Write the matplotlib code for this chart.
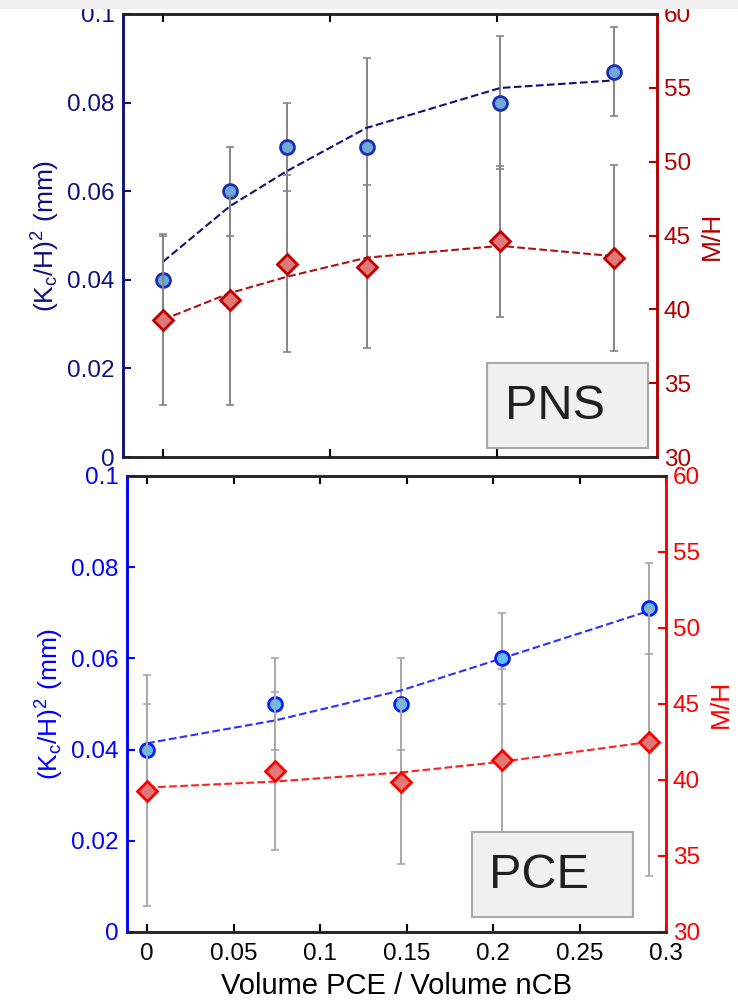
import matplotlib
matplotlib.use("Agg")
import matplotlib.pyplot as plt
from matplotlib.patches import Rectangle

plt.rcParams['font.family'] = ['Liberation Sans', 'DejaVu Sans']
plt.rcParams['mathtext.default'] = 'regular'

# PNS panel (top)
pns_x = [0, 0.04, 0.074, 0.122, 0.202, 0.27]
pns_k = [0.040, 0.060, 0.070, 0.070, 0.080, 0.087]
pns_k_err = [0.010, 0.010, 0.010, 0.020, 0.015, 0.010]
pns_k_fit = [0.0441, 0.0566, 0.0645, 0.0743, 0.0833, 0.0850]
pns_m = [39.3, 40.6, 43.1, 42.9, 44.6, 43.5]
pns_m_err = [5.8, 7.1, 6.0, 5.5, 5.1, 6.3]
pns_m_fit = [39.3, 41.1, 42.2, 43.5, 44.3, 43.6]

# PCE panel (bottom)
pce_x = [0, 0.074, 0.147, 0.205, 0.29]
pce_k = [0.040, 0.050, 0.050, 0.060, 0.071]
pce_k_err = [0.010, 0.010, 0.010, 0.010, 0.010]
pce_k_fit = [0.0414, 0.0464, 0.0530, 0.0600, 0.0704]
pce_m = [39.3, 40.6, 39.9, 41.3, 42.5]
pce_m_err = [7.6, 5.2, 5.4, 6.0, 8.8]
pce_m_fit = [39.5, 39.9, 40.5, 41.2, 42.5]

left_ticks = [0, 0.02, 0.04, 0.06, 0.08, 0.1]
left_labels = ['0', '0.02', '0.04', '0.06', '0.08', '0.1']
right_ticks = [30, 35, 40, 45, 50, 55, 60]
x_ticks_top = [0, 0.1, 0.2]
x_ticks_bot = [0, 0.05, 0.1, 0.15, 0.2, 0.25, 0.3]
x_labels_bot = ['0', '0.05', '0.1', '0.15', '0.2', '0.25', '0.3']

fig = plt.figure(figsize=(7.38, 10), dpi=100)
fig.patches.append(Rectangle((0, 0.992), 1, 0.008, transform=fig.transFigure,
                             color='#efefef', zorder=0))


def panel(rect, x, k, kerr, kfit, m, merr, mfit, xlim, xticks,
          lc, rc, kface, kedge, mface, medge, kline, mline, ecol, name, box):
    ax = fig.add_axes(rect)
    ax2 = ax.twinx()
    ax.errorbar(x, k, yerr=kerr, fmt='none', ecolor=ecol, elinewidth=1.4,
                capsize=3, capthick=1.2, zorder=1)
    ax.plot(x, kfit, '--', color=kline, lw=1.5, zorder=2)
    ax.plot(x, k, 'o', ms=10, mfc=kface, mec=kedge, mew=2, zorder=3)
    ax2.errorbar(x, m, yerr=merr, fmt='none', ecolor=ecol, elinewidth=1.4,
                 capsize=3, capthick=1.2, zorder=1)
    ax2.plot(x, mfit, '--', color=mline, lw=1.5, zorder=2)
    ax2.plot(x, m, 'D', ms=10, mfc=mface, mec=medge, mew=2, zorder=3)

    ax.set_xlim(*xlim)
    ax.set_ylim(0, 0.1)
    ax2.set_ylim(30, 60)
    ax.set_yticks(left_ticks)
    ax.set_yticklabels(left_labels)
    ax2.set_yticks(right_ticks)
    ax.set_xticks(xticks)

    ax.tick_params(axis='y', direction='in', length=6, width=1.5, colors=lc,
                   labelsize=17.5, pad=6)
    ax.tick_params(axis='x', direction='in', length=6, width=1.5, top=True,
                   labelsize=17.5, pad=9, colors='black')
    ax2.tick_params(axis='y', direction='in', length=6, width=1.5, colors=rc,
                    labelsize=17.5, pad=5)
    for a in (ax, ax2):
        a.spines['left'].set_color(lc)
        a.spines['right'].set_color(rc)
        a.spines['top'].set_color('#222222')
        a.spines['bottom'].set_color('#222222')
        for s in a.spines.values():
            s.set_linewidth(1.8)

    ax.set_ylabel(r'(K$_c$/H)$^2$ (mm)', color=lc, fontsize=19, labelpad=4)
    ax2.set_ylabel('M/H', color=rc, fontsize=19, labelpad=6)

    bx, by, bw, bh, tx, ty = box
    ax2.add_patch(Rectangle((bx, by), bw, bh, transform=ax2.transAxes,
                            facecolor='#f0f0f0', edgecolor='#a8a8a8', lw=1.5,
                            zorder=4))
    ax2.text(tx, ty, name, transform=ax2.transAxes, fontsize=35,
             color='#202020', va='center', ha='left', zorder=5)
    return ax, ax2


top, top2 = panel([0.1667, 0.543, 0.7236, 0.443], pns_x, pns_k, pns_k_err,
                  pns_k_fit, pns_m, pns_m_err, pns_m_fit, (-0.024, 0.296),
                  x_ticks_top, '#10107a', '#b00000', '#6fa8dc', '#1a2fb0',
                  '#e07878', '#c00000', '#10107a', '#b01010', '#858585', 'PNS',
                  (0.682, 0.020, 0.301, 0.192, 0.716, 0.115))
top.set_xticklabels([])

bot, bot2 = panel([0.1721, 0.068, 0.7304, 0.456], pce_x, pce_k, pce_k_err,
                  pce_k_fit, pce_m, pce_m_err, pce_m_fit, (-0.0116, 0.3),
                  x_ticks_bot, '#0000ff', '#ff0000', '#66bdf0', '#0a1cff',
                  '#e07878', '#ff0000', '#3030ff', '#ff2020', '#a8a8a8', 'PCE',
                  (0.640, 0.033, 0.299, 0.186, 0.672, 0.125))
bot.set_xticklabels(x_labels_bot)
bot.tick_params(axis='x', pad=8)
bot.set_xlabel('Volume PCE / Volume nCB', fontsize=21, labelpad=5)

fig.savefig('out.png', dpi=100)
